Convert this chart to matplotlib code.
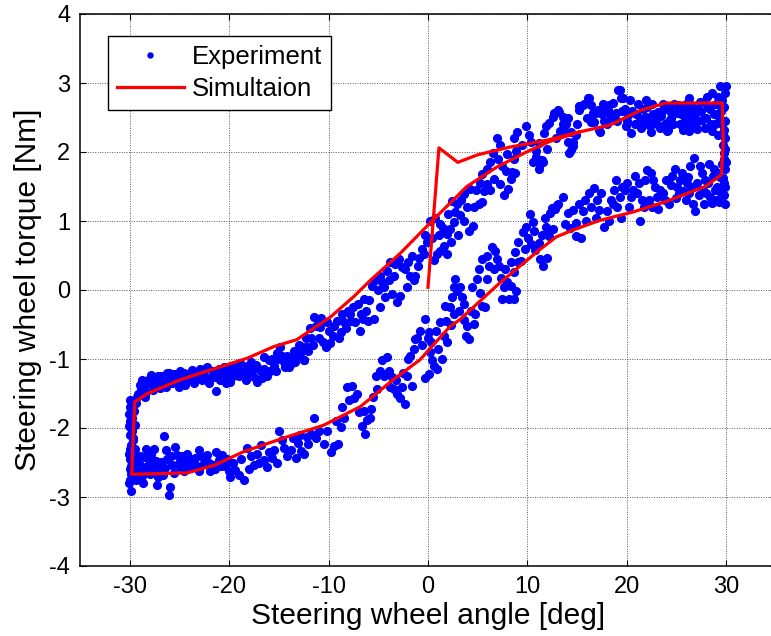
import matplotlib
matplotlib.use("Agg")
import matplotlib.pyplot as plt

plt.rcParams['font.family'] = ['Liberation Sans', 'DejaVu Sans']
plt.rcParams['axes.unicode_minus'] = False

# ---------------- data ----------------
x_ticks = [-30, -20, -10, 0, 10, 20, 30]
y_ticks = [-4, -3, -2, -1, 0, 1, 2, 3, 4]

# Experiment: upper branch (+30 -> -30) incl. left reversal
exp_up = [
    (-29.4,-1.64),(-29.2,-1.50),(-28.9,-1.45),(-28.5,-1.55),(-28.0,-1.35),(-27.9,-1.23),(-27.4,-1.33),
    (-27.0,-1.42),(-26.5,-1.28),(-26.2,-1.21),(-25.7,-1.35),(-25.2,-1.26),(-25.0,-1.40),(-24.5,-1.21),
    (-24.2,-1.30),(-23.7,-1.16),(-23.4,-1.26),(-22.9,-1.14),(-22.5,-1.23),(-21.9,-1.28),(-21.6,-1.18),
    (-21.3,-1.47),(-20.9,-1.30),(-20.5,-1.11),(-20.0,-1.21),(-19.9,-1.33),(-19.4,-1.16),(-18.9,-1.06),
    (-18.5,-1.18),(-18.2,-1.10),(-17.5,-1.26),(-17.2,-1.33),(-16.7,-1.28),(-16.5,-1.14),(-16.0,-1.02),
    (-15.9,-1.18),(-15.2,-0.92),(-14.5,-1.04),(-14.0,-1.11),(-13.7,-1.06),(-13.2,-0.97),(-12.5,-1.01),
    (-12.2,-0.82),(-14.9,-0.82),(-16.5,-0.97),
    (-29.0,-1.38),(-28.6,-1.42),(-28.2,-1.30),(-27.7,-1.45),(-27.2,-1.25),(-26.8,-1.38),(-26.0,-1.30),
    (-25.5,-1.22),(-24.8,-1.30),(-24.0,-1.22),(-23.2,-1.20),(-22.7,-1.30),(-22.2,-1.12),(-21.0,-1.15),
    (-20.2,-1.26),(-19.7,-1.10),(-19.0,-1.25),(-18.0,-1.20),(-17.8,-1.05),(-17.0,-1.15),(-15.5,-1.10),
    (-15.0,-1.00),(-14.2,-0.95),(-13.5,-0.88),(-12.8,-0.90),
    (-29.3,-1.55),(-28.8,-1.30),(-28.4,-1.48),(-27.8,-1.28),(-27.3,-1.40),(-26.9,-1.25),(-26.4,-1.40),
    (-26.0,-1.20),(-25.4,-1.32),(-24.9,-1.18),(-24.4,-1.37),(-23.9,-1.25),(-23.5,-1.35),(-23.0,-1.22),
    (-22.4,-1.14),(-22.0,-1.35),(-21.5,-1.26),(-21.1,-1.22),(-20.7,-1.20),(-20.3,-1.35),(-19.6,-1.25),
    (-19.2,-1.12),(-18.7,-1.22),(-18.3,-1.30),(-17.6,-1.15),(-17.3,-1.08),(-16.8,-1.18),(-16.2,-1.25),
    (-15.7,-1.00),(-15.3,-1.18),(-14.7,-0.95),(-14.4,-1.12),(-13.9,-0.98),(-13.4,-1.05),(-13.0,-0.80),
    (-12.3,-0.70),(-11.9,-0.55),(-11.6,-0.80),
    (-11.5,-0.39),(-10.9,-0.53),(-9.9,-0.77),(-10.2,-0.46),(-12.6,-0.82),(-12.1,-0.88),(-12.5,-1.02),
    (-11.8,-0.70),(-11.1,-0.42),(-10.8,-0.40),(-11.3,-0.52),(-10.3,-0.83),(-10.6,-0.76),(-11.0,-0.69),
    (-9.5,-0.52),(-9.6,-0.66),(-8.8,-0.61),(-8.4,-0.47),(-8.6,-0.35),(-8.0,-0.30),(-7.5,-0.25),
    (-7.8,-0.35),(-7.3,-0.47),(-6.8,-0.59),(-6.5,-0.42),(-6.2,-0.30),(-5.9,-0.15),(-6.4,-0.13),
    (-5.4,-0.42),(-4.8,-0.25),(-5.6,0.06),(-5.3,0.14),(-4.6,0.11),(-4.4,0.04),(-4.8,0.21),(-4.1,0.28),
    (-3.6,-0.06),(-2.8,-0.08),(-3.1,-0.18),(-2.1,0.04),(-2.3,0.30),(-1.8,0.21),(-1.3,0.21),(-1.4,0.14),
    (-3.3,0.38),(-2.6,0.33),(-3.8,0.40),(-0.9,0.47),(-0.6,0.59),(-0.4,0.52),(-0.1,0.69),(0.6,0.43),
    (0.9,0.52),(1.2,0.57),(1.6,0.64),(1.9,0.52),(1.1,0.79),(1.2,0.96),(0.2,1.00),(1.9,0.81),(2.2,0.88),
    (2.6,0.98),(2.7,1.13),(3.6,1.00),(4.1,0.86),(4.5,0.93),(3.2,1.08),(2.9,1.25),(2.4,1.29),(3.6,1.39),
    (4.2,1.46),(4.6,1.20),(5.1,1.25),(5.4,1.27),(5.6,1.44),(5.9,1.54),(5.4,1.68),(5.9,1.75),(6.6,1.61),
    (7.2,1.54),(7.6,1.37),(8.0,1.46),(7.8,1.73),(8.4,1.71),(8.3,1.61),(8.8,1.70),(7.9,1.97),(8.9,2.02),
    (10.9,2.02),(11.3,1.83),(11.6,1.85),
    (-10.0,-0.60),(-9.2,-0.45),(-9.0,-0.70),(-8.2,-0.55),(-7.7,-0.45),(-7.0,-0.20),(-6.7,-0.35),
    (-6.0,-0.45),(-5.0,0.00),(-4.3,-0.10),(-3.9,0.15),(-3.4,0.20),(-2.9,0.45),(-2.0,0.40),(-1.6,0.50),
    (-1.0,0.35),(-0.3,0.80),(0.4,0.75),(0.7,1.05),(1.5,0.90),(2.0,1.10),(2.3,0.70),(3.0,0.80),(3.3,1.30),
    (3.9,1.20),(4.8,1.45),(5.2,1.55),(6.2,1.85),(6.2,1.45),(7.0,1.90),(7.4,1.80),(8.6,1.90),(9.5,2.10),
    (10.2,2.25),(10.6,1.85),
    (6.9,2.20),(7.2,2.10),(6.5,1.98),(8.6,2.20),(9.0,2.29),(9.9,2.37),(10.4,2.15),(10.9,1.93),(11.2,1.76),
    (11.5,1.88),(11.9,2.37),(12.6,2.51),(13.1,2.61),(13.6,2.41),(13.9,2.29),(14.1,2.49),(14.4,2.03),
    (14.6,2.15),(15.2,2.61),(15.6,2.68),(16.1,2.78),(16.4,2.44),(16.9,2.56),(17.3,2.29),(17.7,2.45),
    (18.1,2.61),(18.6,2.71),(19.1,2.90),(19.4,2.78),
    (11.2,2.13),(11.7,2.27),(12.2,2.42),(12.7,2.56),(13.2,2.58),(13.6,2.51),(13.9,2.41),(14.4,2.29),
    (14.1,2.15),(14.6,2.08),(14.2,1.98),(14.9,2.25),(15.2,2.66),(15.7,2.70),(16.2,2.78),(16.4,2.68),
    (16.6,2.56),(16.7,2.44),(17.2,2.32),(17.1,2.61),(17.6,2.70),(17.9,2.58),(18.2,2.68),(18.4,2.51),
    (18.9,2.56),(19.3,2.90),(19.6,2.78),(19.8,2.63),(20.1,2.54),(19.9,2.37),(20.4,2.27),(20.8,2.41),
    (21.1,2.70),(21.6,2.63),(21.9,2.51),(22.3,2.37),(22.4,2.29),(22.8,2.46),(23.1,2.58),(23.4,2.52),
    (23.8,2.41),(24.1,2.32),(24.4,2.49),(24.9,2.56),(25.3,2.41),(25.6,2.32),(25.9,2.70),(26.3,2.78),
    (26.6,2.51),(26.8,2.39),(27.1,2.34),(27.6,2.46),(27.8,2.73),(28.1,2.80),(28.4,2.63),(28.6,2.85),
    (28.9,2.41),(29.1,2.55),(29.4,2.95),(29.6,2.75),(29.8,2.32),(29.7,2.10),(29.8,1.98),
    (20.5,2.60),(21.3,2.50),(22.0,2.65),(22.6,2.55),(23.3,2.35),(24.0,2.65),(24.6,2.40),(25.1,2.68),
    (25.8,2.50),(26.2,2.60),(27.0,2.62),(27.4,2.72),(28.0,2.50),(28.5,2.40),(29.0,2.70),(29.3,2.45),
    (23.6,2.70),(26.9,2.55),(24.3,2.60),(21.7,2.40),
    (19.0,2.45),(19.5,2.60),(20.3,2.75),(20.9,2.55),(21.4,2.35),(21.9,2.75),(22.5,2.70),(23.0,2.40),
    (23.5,2.60),(24.2,2.45),(24.7,2.70),(25.4,2.55),(25.7,2.62),(26.0,2.40),(26.5,2.68),(27.2,2.45),
    (27.5,2.60),(27.9,2.35),(28.2,2.65),(28.8,2.55),(29.2,2.80),(29.5,2.60),(29.6,2.40),(29.2,2.25),
    (28.6,2.30),(24.0,2.30),(26.2,2.30),(18.0,2.40),(16.0,2.50),(15.0,2.40),(13.3,2.30),(12.9,2.20),
    (12.0,2.05),(17.5,2.55),(20.0,2.45),(22.0,2.45),
    (-30.0,-1.60),(-29.9,-1.70),(-30.1,-1.80),(-30.0,-1.90),(-29.8,-2.05),(-30.0,-2.10),(-29.9,-2.25),
    (-30.0,-2.45),(-29.8,-2.35),(-30.0,-2.60),(-29.7,-2.70),(-30.1,-2.80),(-29.6,-1.75),(-29.5,-1.95),
    (-29.6,-2.40),(-30.0,-1.70),(-29.9,-2.00),(-30.0,-2.30),(-29.9,-2.55),(-29.8,-1.85),(-29.7,-2.15),
    (-30.0,-2.75),(-29.5,-2.30),
]
exp_up_angle = [p[0] for p in exp_up]
exp_up_torque = [p[1] for p in exp_up]

# Experiment: lower branch (-30 -> +30) incl. right reversal
exp_low = [
    (-29.9,-2.92),(-29.9,-2.66),(-30.1,-2.37),(-30.1,-1.97),(-29.9,-1.83),(-29.7,-2.17),(-29.6,-2.51),
    (-29.4,-2.75),(-28.9,-2.56),(-28.7,-2.80),(-28.5,-2.42),(-28.0,-2.66),(-27.9,-2.39),(-27.5,-2.56),
    (-27.2,-2.71),(-26.9,-2.49),(-26.6,-2.12),(-26.4,-2.32),(-26.0,-2.97),(-25.9,-2.85),(-25.7,-2.53),
    (-25.4,-2.27),(-25.2,-2.39),(-24.9,-2.56),(-24.4,-2.49),(-24.2,-2.37),(-23.9,-2.58),(-23.4,-2.44),
    (-23.0,-2.32),(-22.5,-2.51),(-22.2,-2.39),(-21.9,-2.63),(-21.6,-2.53),(-21.0,-2.46),(-20.7,-2.39),
    (-20.0,-2.63),(-19.9,-2.71),(-19.4,-2.61),(-19.0,-2.68),(-18.5,-2.75),(-18.2,-2.29),(-17.5,-2.53),
    (-17.2,-2.37),(-16.5,-2.46),(-16.2,-2.56),(-15.7,-2.44),(-15.5,-2.32),(-15.0,-2.05),(-14.7,-2.17),
    (-14.5,-2.29),(-13.8,-2.32),(-13.3,-2.44),(-13.1,-2.22),(-12.5,-2.37),(-12.2,-2.13),
    (-29.2,-2.62),(-28.8,-2.70),(-28.3,-2.55),(-27.7,-2.65),(-27.0,-2.60),(-26.7,-2.68),(-26.2,-2.45),
    (-25.5,-2.65),(-24.7,-2.40),(-24.0,-2.45),(-23.2,-2.55),(-22.8,-2.40),(-21.3,-2.35),(-20.4,-2.55),
    (-28.4,-2.30),(-27.6,-2.30),(-29.0,-2.40),(-27.3,-2.82),
    (-29.5,-2.60),(-29.1,-2.50),(-28.6,-2.62),(-28.1,-2.45),(-27.8,-2.55),(-27.4,-2.48),(-26.5,-2.58),
    (-25.8,-2.40),(-25.0,-2.50),(-24.5,-2.62),(-23.7,-2.50),(-23.0,-2.62),(-22.0,-2.50),(-21.4,-2.60),
    (-20.8,-2.55),(-20.2,-2.45),(-19.6,-2.50),(-18.8,-2.45),(-18.0,-2.60),(-17.8,-2.40),(-17.0,-2.50),
    (-16.8,-2.25),(-16.0,-2.35),(-15.2,-2.50),(-14.2,-2.40),(-13.6,-2.15),(-12.9,-2.10),(-11.3,-2.15),
    (-10.2,-2.05),(-9.3,-1.90),(-8.4,-1.85),(-7.9,-1.60),(-7.1,-1.50),(-6.4,-1.75),(-5.5,-1.55),
    (-5.2,-1.25),(-4.4,-1.25),(-3.8,-1.40),(-3.2,-1.30),(-2.5,-1.20),(-2.0,-1.00),(-1.4,-0.85),
    (-0.6,-0.80),(0.3,-0.75),(0.8,-0.60),(1.0,-0.85),(1.8,-0.45),(2.3,-0.50),(2.4,-0.10),(3.4,-0.10),
    (4.3,-0.30),(4.4,0.05),(5.1,0.30),(5.2,-0.05),(6.1,0.35),(6.9,0.45),(7.7,0.30),(8.3,0.40),(8.8,0.55),
    (9.8,0.60),(10.7,0.85),(11.5,0.80),(11.8,1.05),
    (-12.8,-2.33),(-12.1,-2.23),(-11.8,-2.09),(-11.5,-1.85),(-11.0,-2.04),(-10.5,-2.23),
    (-9.8,-2.35),(-9.5,-2.26),(-9.1,-2.23),(-8.8,-1.99),(-8.6,-1.70),(-8.1,-1.41),(-7.6,-1.39),
    (-7.4,-1.56),(-6.9,-1.77),(-6.6,-1.97),(-6.3,-2.09),(-6.1,-1.89),(-5.8,-1.85),(-5.7,-1.72),
    (-5.1,-1.43),(-4.8,-1.17),(-4.6,-1.02),(-4.1,-0.97),(-3.9,-1.17),(-3.6,-1.26),(-3.4,-1.43),
    (-3.1,-1.51),(-2.8,-1.56),(-2.3,-1.65),(-2.6,-1.41),(-2.1,-1.24),(-1.6,-1.39),(-1.8,-0.95),
    (-1.1,-0.69),(-0.8,-0.59),(-0.3,-0.42),(0.1,-0.61),(0.0,-0.69),(-1.3,-0.71),(0.2,-0.90),(0.4,-1.02),
    (0.6,-1.10),(0.9,-1.15),(-0.3,-1.27),(0.1,-1.22),(1.4,-1.00),(1.2,-0.47),(1.6,-0.66),(1.9,-0.76),
    (1.7,-0.23),(2.2,-0.25),(2.6,0.04),(2.7,0.16),(2.9,-0.01),(3.2,0.04),(2.6,-0.35),(3.1,-0.30),
    (3.6,-0.20),(3.6,-0.44),(3.9,-0.52),(4.1,-0.71),(3.8,-0.66),(4.6,-0.49),(4.7,-0.35),(5.4,-0.23),
    (5.7,-0.25),(4.9,0.16),(5.4,0.45),(5.9,0.50),(6.4,0.62),(6.7,0.57),(7.1,0.35),(6.6,0.30),(5.9,0.16),
    (7.3,0.18),(7.6,0.04),(7.9,0.11),(8.3,0.06),(7.4,-0.13),(8.1,-0.13),(8.6,-0.13),(8.9,-0.01),
    (8.6,0.26),(9.1,0.40),(9.4,0.42),(9.1,0.69),(9.6,0.84),(9.9,0.91),(10.3,1.10),(10.6,0.98),
    (10.1,0.76),(10.4,0.67),(10.8,0.58),(11.3,0.45),(11.6,0.35),(12.0,0.47),(12.1,0.86),(12.6,0.88),
    (12.8,1.17),(13.1,1.25),(12.3,1.12),
    (11.2,0.68),(11.9,0.92),(12.2,0.78),(12.5,1.19),(13.0,1.23),(13.6,1.35),(14.1,1.11),(14.6,1.16),
    (14.9,0.78),(15.4,0.75),(14.9,0.97),(15.6,1.14),(15.9,1.00),(16.2,1.40),(16.7,1.48),(17.2,1.16),
    (17.7,0.92),(18.2,1.00),(18.4,1.31),(18.9,1.60),(19.3,1.35),(19.8,1.45),(20.2,1.21),(20.6,1.45),
    (21.3,1.00),(21.5,1.31),(21.8,1.60),(22.0,1.74),(22.4,1.69),(22.8,1.50),(23.1,1.18),(23.6,1.40),
    (23.9,1.59),(24.4,1.52),(24.8,1.76),(24.9,1.33),(25.3,1.59),(25.6,1.43),(26.1,1.64),(26.4,1.79),
    (26.8,1.91),(26.9,1.14),(27.3,1.38),(27.6,1.69),(27.9,1.59),(28.3,1.83),(28.6,1.26),(28.9,1.45),
    (29.3,1.28),(29.4,1.64),(29.6,1.83),
    (17.0,1.30),(19.0,1.20),(20.0,1.55),(21.0,1.40),(22.2,1.30),(23.3,1.45),(24.2,1.25),(25.0,1.50),
    (25.9,1.30),(26.5,1.50),(27.1,1.55),(28.0,1.40),(28.7,1.65),(29.1,1.50),(27.8,1.25),(22.5,1.20),
    (15.2,1.25),(13.8,0.95),(16.4,1.20),(18.7,1.45),
    (14.3,0.90),(15.8,1.30),(16.9,1.05),(17.4,1.40),(18.0,1.15),(18.6,1.25),(19.5,1.50),(20.4,1.35),
    (21.2,1.55),(21.7,1.20),(22.6,1.60),(23.0,1.35),(23.8,1.30),(24.5,1.65),(25.2,1.40),(25.5,1.70),
    (26.2,1.40),(26.7,1.25),(27.4,1.80),(27.7,1.45),(28.2,1.55),(28.4,1.35),(28.8,1.75),(29.2,1.70),
    (29.5,1.40),(29.0,1.30),(26.0,1.55),(20.8,1.65),(19.4,1.05),
    (29.9,2.85),(29.8,2.65),(29.9,2.45),(29.7,2.25),(29.9,2.05),(29.8,1.90),(29.9,1.75),(29.7,1.62),
    (29.9,1.50),(29.8,1.38),(29.9,1.25),(30.0,2.95),(29.9,2.20),(30.0,1.85),(29.8,1.55),
]
exp_low_angle = [p[0] for p in exp_low]
exp_low_torque = [p[1] for p in exp_low]

# Simulation
sim_angle = [0.0, 1.1, 3.0, 5.0, 8.2, 11.9, 15.2, 18.3, 21.3, 23.9, 29.6, 29.7, 29.5, 27.9,
             23.9, 20.6, 17.3, 14.6, 12.9, 11.2, 9.6, 7.2, 3.2, 2.2, -0.8, -3.5, -6.8, -10.5,
             -14.2, -18.5, -21.5, -24.2, -26.8, -29.8, -29.5, -28.2, -24.9, -21.9, -18.2, -15.5,
             -13.2, -9.8, -7.5, -5.8, -2.8, 0.2, 3.9, 6.9, 9.9, 12.2, 15.2]
sim_torque = [0.04, 2.06, 1.85, 1.96, 2.07, 2.17, 2.29, 2.39, 2.60, 2.71, 2.71, 2.13, 1.67, 1.50,
              1.28, 1.13, 1.01, 0.87, 0.77, 0.58, 0.39, 0.10, -0.43, -0.53, -1.01, -1.30, -1.69, -1.96,
              -2.13, -2.34, -2.54, -2.65, -2.66, -2.67, -1.62, -1.50, -1.30, -1.16, -0.99, -0.82,
              -0.72, -0.39, -0.10, 0.14, 0.53, 0.97, 1.50, 1.78, 2.00, 2.15, 2.29]

# ---------------- plot ----------------
fig = plt.figure(figsize=(7.71, 6.36), dpi=100)
ax = fig.add_axes([80/771, 70/636, 696/771, 552/636])

ax.plot(exp_up_angle + exp_low_angle, exp_up_torque + exp_low_torque, 'o',
        color='#0000ff', ms=6.6, mec='none', label='Experiment', zorder=3)
ax.plot(sim_angle, sim_torque, '-', color='#ff0000', lw=2.3, label='Simultaion', zorder=4)

ax.set_xlim(-35, 35)
ax.set_ylim(-4, 4)
ax.set_xticks(x_ticks)
ax.set_yticks(y_ticks)
ax.grid(True, color='0.35', ls=(0, (1, 1.5)), lw=0.7)
ax.set_axisbelow(True)
ax.tick_params(direction='in', top=True, right=True, length=4, width=0.8,
               labelsize=17, pad=7)
for s in ax.spines.values():
    s.set_linewidth(1.1)

ax.set_xlabel('Steering wheel angle [deg]', fontsize=21.5, labelpad=3)
ax.set_ylabel('Steering wheel torque [Nm]', fontsize=21.5, labelpad=5)

leg = ax.legend(loc='upper left', bbox_to_anchor=(0.0402, 0.960), borderaxespad=0,
                fontsize=18.5, fancybox=False, framealpha=1, edgecolor='black',
                handlelength=2.6, handletextpad=0.3, labelspacing=0.3, borderpad=0.35,
                markerscale=0.7)
leg.get_frame().set_linewidth(1.0)

fig.savefig('out.png', dpi=100)
